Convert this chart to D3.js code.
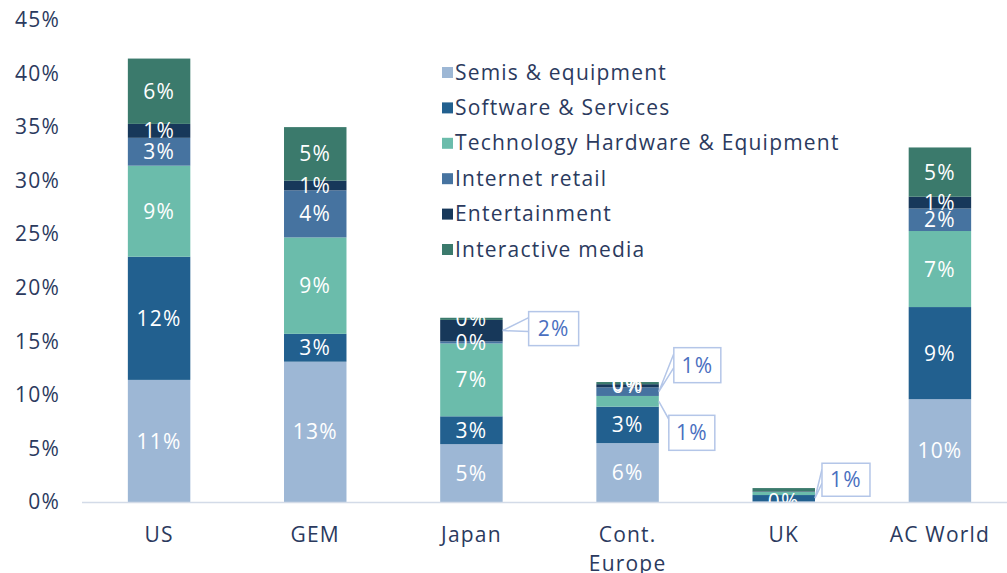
<!DOCTYPE html>
<html><head><meta charset="utf-8">
<script src="https://cdn.jsdelivr.net/npm/d3@7"></script>
<style>
html,body{margin:0;padding:0;background:#fff;}
svg{display:block;font-family:"Open Sans",sans-serif;letter-spacing:1.2px;}
</style></head>
<body><svg id="chart" width="1007" height="573"></svg>
<script>
// ---- data ----
const categories = ["US", "GEM", "Japan", "Cont. Europe", "UK", "AC World"];
const seriesNames = ["Semis & equipment", "Software & Services", "Technology Hardware & Equipment", "Internet retail", "Entertainment", "Interactive media"];
const semis          = [11.4, 13.1, 5.4, 5.5, 0.05, 9.6];
const software       = [11.5, 2.6, 2.6, 3.4, 0.6, 8.6];
const techHardware   = [8.5, 9.0, 6.8, 1.0, 0.3, 7.1];
const internetRetail = [2.6, 4.4, 0.2, 0.8, 0.0, 2.1];
const entertainment  = [1.3, 0.9, 2.0, 0.3, 0.05, 1.1];
const interactive    = [6.1, 5.0, 0.2, 0.2, 0.3, 4.6];
const yTicks = [0, 5, 10, 15, 20, 25, 30, 35, 40, 45];
// label mode per series/category: "in" = inside bar, "call" = callout box, "" = none
const labelModes = [
  ["in", "in", "in", "in", "in", "in"],
  ["in", "in", "in", "in", "call", "in"],
  ["in", "in", "in", "call", "", "in"],
  ["in", "in", "in", "call", "", "in"],
  ["in", "in", "call", "in", "", "in"],
  ["in", "in", "in", "in", "", "in"]
];

// ---- presentation ----
const colors = ["#9db7d5", "#22608f", "#6bbcab", "#4673a0", "#17385a", "#3b7a6c"];
const textColor = "#2b3a5e";
const calloutColor = "#b4c6e8";
const calloutText = "#4a6fc0";
const fontSize = "21px";
const allSeries = [semis, software, techHardware, internetRetail, entertainment, interactive];

const svg = d3.select("#chart");
const x = d3.scaleBand().domain(categories).range([81, 1018]).paddingInner(0.6).paddingOuter(0.3);
const y = d3.scaleLinear().domain([0, 45]).range([502, 20]);

// stack
const rows = categories.map((c, i) => {
  const r = {cat: c};
  seriesNames.forEach((s, j) => r[s] = allSeries[j][i]);
  return r;
});
const stacked = d3.stack().keys(seriesNames)(rows);

const gBars = svg.append("g");
stacked.forEach((layer, j) => {
  gBars.selectAll(null).data(layer).enter().append("rect")
    .attr("x", d => x(d.data.cat))
    .attr("width", x.bandwidth())
    .attr("y", d => y(d[1]))
    .attr("height", d => Math.max(0, y(d[0]) - y(d[1])))
    .attr("fill", colors[j]);
});

// y axis labels
const yAxis = d3.axisLeft(y).tickValues(yTicks).tickFormat(d => d + "%").tickSize(0).tickPadding(0);
const gy = svg.append("g").attr("transform", "translate(60,0)").call(yAxis);
gy.select(".domain").remove();
gy.selectAll("text").attr("fill", textColor).style("font-size", fontSize).style("font-family", "'Open Sans',sans-serif");

// inside labels
const fmt = v => Math.round(v) + "%";
stacked.forEach((layer, j) => {
  layer.forEach((d, i) => {
    if (labelModes[j][i] !== "in") return;
    svg.append("text")
      .attr("x", x(d.data.cat) + x.bandwidth() / 2)
      .attr("y", (y(d[0]) + y(d[1])) / 2)
      .attr("dy", "0.36em")
      .attr("text-anchor", "middle")
      .attr("fill", "#ffffff")
      .style("font-size", fontSize)
      .text(fmt(allSeries[j][i]));
  });
});

// x axis line
const xAxis = d3.axisBottom(x).tickSize(0).tickPadding(0).tickFormat("");
const gx = svg.append("g").attr("transform", "translate(0,502)").call(xAxis);
gx.select(".domain").attr("d", "M82,0.5H1007").attr("stroke", "#d3dbe8").attr("stroke-width", 1.5);

// x labels
categories.forEach(c => {
  const words = c === "Cont. Europe" ? ["Cont.", "Europe"] : [c];
  words.forEach((w, k) => {
    svg.append("text")
      .attr("x", x(c) + x.bandwidth() / 2)
      .attr("y", 534 + k * 29)
      .attr("dy", "0.36em")
      .attr("text-anchor", "middle")
      .attr("fill", textColor)
      .style("font-size", fontSize)
      .text(w);
  });
});

// callouts (box offsets relative to bar right edge / segment centre)
const calloutLayout = {
  "4-2": {dx: 26, dy: -19, w: 50, h: 34},
  "3-3": {dx: 15, dy: -44, w: 47, h: 35},
  "2-3": {dx: 10, dy: 14, w: 46, h: 35},
  "1-4": {dx: 7, dy: -35, w: 48, h: 33}
};
stacked.forEach((layer, j) => {
  layer.forEach((d, i) => {
    if (labelModes[j][i] !== "call") return;
    const L = calloutLayout[j + "-" + i];
    const ax = x(d.data.cat) + x.bandwidth();
    const ay = (y(d[0]) + y(d[1])) / 2;
    const bx = ax + L.dx, by = ay + L.dy;
    const g = svg.append("g");
    const below = L.dy > 0;
    g.append("path")
      .attr("d", below
        ? `M${ax},${ay}L${bx},${by + 4}L${bx},${by + 18}`
        : `M${ax},${ay}L${bx},${by + 6}M${ax},${ay}L${bx},${by + 20}`)
      .attr("fill", "none").attr("stroke", calloutColor).attr("stroke-width", 1.5);
    g.append("rect").attr("x", bx).attr("y", by).attr("width", L.w).attr("height", L.h)
      .attr("fill", "#fff").attr("stroke", calloutColor).attr("stroke-width", 1.5);
    g.append("text").attr("x", bx + L.w / 2).attr("y", by + L.h / 2).attr("dy", "0.36em")
      .attr("text-anchor", "middle").attr("fill", calloutText).style("font-size", fontSize)
      .text(fmt(allSeries[j][i]));
  });
});

// legend
const legend = svg.append("g").attr("transform", "translate(442,72)");
seriesNames.forEach((s, j) => {
  const g = legend.append("g").attr("transform", `translate(0,${j * 35.4})`);
  g.append("rect").attr("x", 0).attr("y", -5).attr("width", 11).attr("height", 11).attr("fill", colors[j]);
  g.append("text").attr("x", 13).attr("y", 0).attr("dy", "0.36em").attr("fill", textColor)
    .style("font-size", fontSize).text(s);
});
</script>
</body></html>
